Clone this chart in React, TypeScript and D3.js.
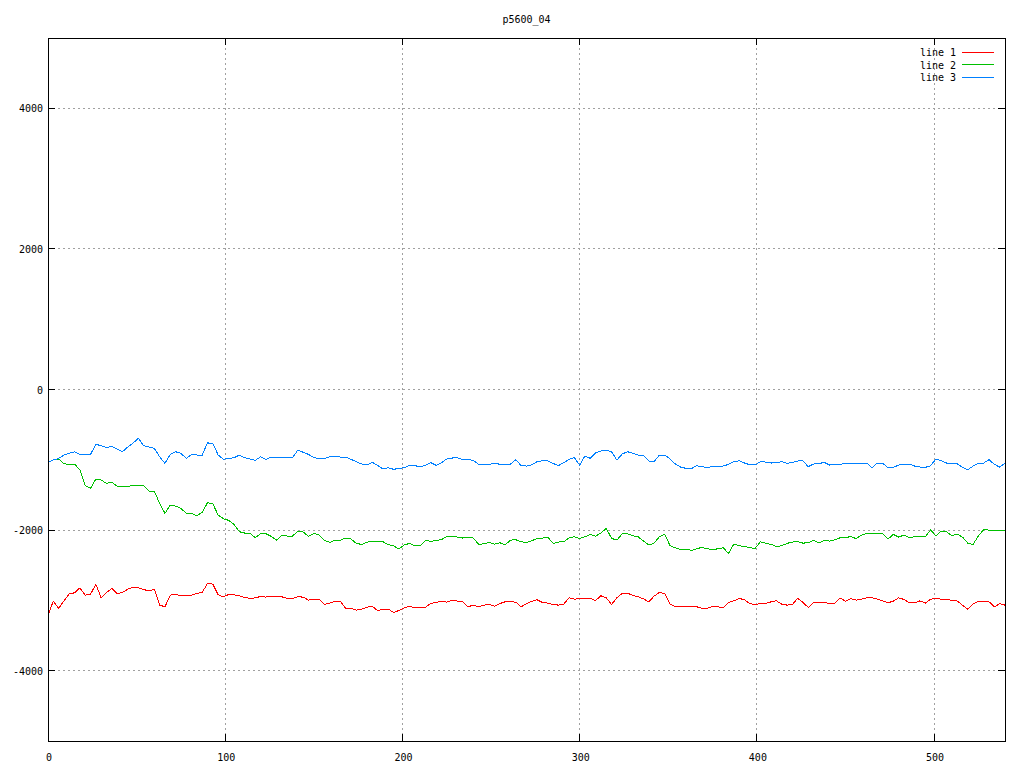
import React from 'react';
import * as d3 from 'd3';

const title = 'p5600_04';
const xTicks = [0, 100, 200, 300, 400, 500];
const yTicks = [-4000, -2000, 0, 2000, 4000];
const seriesNames = ['line 1', 'line 2', 'line 3'];
const seriesColors = ['#ff0000', '#00c000', '#0080ff'];

// sample index (read every 3 points off the reference)
const sampleX = [
  0, 3, 6, 9, 12, 15, 18, 21, 24, 27, 30, 33, 36, 39, 42, 45, 48, 51, 54, 57, 60, 63, 66, 69, 72, 75, 78, 81, 84, 87,
  90, 93, 96, 99, 102, 105, 108, 111, 114, 117, 120, 123, 126, 129, 132, 135, 138, 141, 144, 147, 150, 153, 156, 159, 162, 165, 168, 171, 174, 177,
  180, 183, 186, 189, 192, 195, 198, 201, 204, 207, 210, 213, 216, 219, 222, 225, 228, 231, 234, 237, 240, 243, 246, 249, 252, 255, 258, 261, 264, 267,
  270, 273, 276, 279, 282, 285, 288, 291, 294, 297, 300, 303, 306, 309, 312, 315, 318, 321, 324, 327, 330, 333, 336, 339, 342, 345, 348, 351, 354, 357,
  360, 363, 366, 369, 372, 375, 378, 381, 384, 387, 390, 393, 396, 399, 402, 405, 408, 411, 414, 417, 420, 423, 426, 429, 432, 435, 438, 441, 444, 447,
  450, 453, 456, 459, 462, 465, 468, 471, 474, 477, 480, 483, 486, 489, 492, 495, 498, 501, 504, 507, 510, 513, 516, 519, 522, 525, 528, 531, 534, 537, 540,
];

const line1 = [
  -3210, -3010, -3115, -3006, -2906, -2892, -2821, -2925, -2911, -2773, -2963, -2887, -2830, -2906, -2887, -2840, -2816, -2821, -2844, -2868, -2840, -3067, -3091, -2925, -2911, -2934, -2934, -2925, -2901, -2887,
  -2759, -2768, -2920, -2949, -2915, -2920, -2934, -2958, -2972, -2963, -2944, -2953, -2939, -2949, -2949, -2972, -2972, -2949, -2953, -2996, -2982, -2982, -3058, -3039, -3015, -3011, -3115, -3110, -3138, -3124,
  -3096, -3082, -3148, -3124, -3124, -3172, -3143, -3105, -3082, -3105, -3105, -3096, -3044, -3029, -3015, -3025, -3001, -3010, -3020, -3091, -3067, -3091, -3067, -3058, -3082, -3044, -3020, -3020, -3025, -3091,
  -3044, -3015, -2991, -3029, -3039, -3058, -3067, -3053, -2963, -2982, -2977, -2968, -2972, -3001, -2934, -2963, -3058, -2963, -2901, -2896, -2930, -2949, -2977, -3020, -2939, -2887, -2901, -3053, -3091, -3091,
  -3091, -3082, -3091, -3110, -3115, -3082, -3091, -3105, -3029, -3006, -2972, -2991, -3044, -3063, -3044, -3044, -3020, -3006, -3053, -3067, -3058, -2972, -3029, -3101, -3025, -3029, -3029, -3044, -3039, -2968,
  -3010, -2977, -2996, -2982, -2963, -2963, -2982, -3006, -3034, -3010, -2963, -2987, -3034, -3034, -3006, -3039, -2982, -2972, -2982, -2991, -2996, -3010, -3067, -3124, -3053, -3015, -3015, -3020, -3091, -3048, -3067,
];

const line2 = [
  -1036, -1003, -989, -1055, -1070, -1060, -1146, -1369, -1407, -1274, -1288, -1335, -1321, -1373, -1373, -1378, -1364, -1369, -1369, -1445, -1445, -1620, -1762, -1644, -1658, -1691, -1762, -1762, -1796, -1748,
  -1611, -1625, -1786, -1838, -1862, -1919, -2023, -2042, -2047, -2109, -2047, -2052, -2090, -2142, -2071, -2085, -2085, -2014, -2028, -2090, -2047, -2071, -2147, -2175, -2142, -2142, -2113, -2128, -2189, -2204,
  -2170, -2166, -2161, -2166, -2208, -2223, -2270, -2213, -2189, -2223, -2223, -2147, -2161, -2147, -2137, -2090, -2090, -2099, -2113, -2109, -2113, -2204, -2194, -2175, -2199, -2180, -2208, -2142, -2137, -2166,
  -2175, -2151, -2118, -2113, -2099, -2189, -2170, -2166, -2109, -2095, -2118, -2095, -2061, -2085, -2042, -1976, -2118, -2142, -2052, -2052, -2080, -2095, -2156, -2213, -2185, -2095, -2057, -2223, -2251, -2275,
  -2270, -2289, -2265, -2246, -2265, -2280, -2265, -2251, -2332, -2199, -2223, -2232, -2251, -2261, -2166, -2185, -2204, -2232, -2223, -2189, -2170, -2166, -2185, -2180, -2147, -2185, -2147, -2156, -2137, -2109,
  -2109, -2090, -2123, -2071, -2047, -2052, -2047, -2052, -2128, -2061, -2099, -2071, -2109, -2095, -2095, -2095, -2000, -2080, -2014, -2023, -2080, -2057, -2099, -2185, -2204, -2080, -1995, -2000, -2000, -2000, -2014,
];

const line3 = [
  -1036, -1003, -980, -932, -908, -885, -922, -922, -922, -780, -799, -828, -809, -847, -885, -818, -761, -695, -799, -818, -837, -956, -1051, -923, -885, -908, -980, -923, -932, -932,
  -760, -766, -932, -994, -980, -970, -932, -970, -989, -1008, -956, -994, -961, -961, -961, -970, -970, -861, -894, -923, -970, -980, -980, -956, -946, -961, -961, -994, -1027, -1060,
  -1074, -1036, -1079, -1131, -1112, -1136, -1122, -1112, -1079, -1084, -1098, -1079, -1041, -1079, -1041, -989, -975, -970, -998, -998, -1008, -1065, -1074, -1065, -1046, -1065, -1070, -1060, -998, -1084,
  -1089, -1070, -1027, -1013, -1017, -1051, -1084, -1041, -994, -970, -1074, -946, -980, -899, -875, -861, -885, -1003, -918, -885, -908, -932, -942, -1017, -1027, -932, -932, -989, -1060, -1103,
  -1122, -1127, -1084, -1098, -1112, -1093, -1093, -1089, -1065, -1027, -1013, -1046, -1070, -1074, -1027, -1032, -1046, -1041, -1027, -1051, -1036, -1017, -1017, -1098, -1060, -1055, -1036, -1074, -1065, -1065,
  -1051, -1046, -1055, -1051, -1046, -1112, -1046, -1051, -1112, -1108, -1074, -1065, -1060, -1089, -1103, -1108, -1084, -989, -1013, -1046, -1060, -1055, -1108, -1141, -1089, -1051, -1046, -998, -1065, -1103, -1051,
];

const seriesValues = [line1, line2, line3];

const W = 1024;
const H = 768;
const left = 48;
const right = 1005;
const top = 38;
const bottom = 741;
const tickLen = 7;
const font = '"DejaVu Sans Mono", monospace';

export default function App() {
  const x = d3.scaleLinear().domain([0, 540]).range([left, right]);
  const y = d3.scaleLinear().domain([-5000, 5000]).range([bottom, top]);

  const line = d3.line<number>()
    .x((_, i) => x(sampleX[i]))
    .y(d => y(d));

  return (
    <svg
      width={W}
      height={H}
      style={{ position: 'absolute', left: 0, top: 0, background: '#fff' }}
    >
      {/* grid */}
      <g stroke="#a0a0a0" strokeDasharray="2,3" shapeRendering="crispEdges">
        {xTicks.filter(t => t > 0).map(t => (
          <line key={'gx' + t} x1={x(t)} x2={x(t)} y1={top} y2={bottom} />
        ))}
        {yTicks.map(t => (
          <line key={'gy' + t} x1={left} x2={right} y1={y(t)} y2={y(t)} />
        ))}
      </g>

      {/* tick marks, mirrored like gnuplot */}
      <g stroke="#000" shapeRendering="crispEdges">
        {xTicks.map(t => (
          <g key={'tx' + t}>
            <line x1={x(t)} x2={x(t)} y1={bottom} y2={bottom - tickLen} />
            <line x1={x(t)} x2={x(t)} y1={top} y2={top + tickLen} />
          </g>
        ))}
        {yTicks.map(t => (
          <g key={'ty' + t}>
            <line x1={left} x2={left + tickLen} y1={y(t)} y2={y(t)} />
            <line x1={right} x2={right - tickLen} y1={y(t)} y2={y(t)} />
          </g>
        ))}
      </g>

      {/* series */}
      <g fill="none" strokeWidth={1} shapeRendering="crispEdges">
        {seriesValues.map((vals, i) => (
          <path key={i} d={line(vals) || ''} stroke={seriesColors[i]} />
        ))}
      </g>

      {/* border */}
      <rect
        x={left}
        y={top}
        width={right - left}
        height={bottom - top}
        fill="none"
        stroke="#000"
        shapeRendering="crispEdges"
      />

      {/* labels */}
      <g fontFamily={font} fontSize={10} fill="#000">
        <text x={(left + right) / 2} y={23} textAnchor="middle">{title}</text>
        {xTicks.map(t => (
          <text key={'lx' + t} x={x(t) + 1} y={761} textAnchor="middle">{t}</text>
        ))}
        {yTicks.map(t => (
          <text key={'ly' + t} x={43} y={y(t) + 4} textAnchor="end">{t}</text>
        ))}
        {seriesNames.map((name, i) => (
          <g key={name}>
            <text x={956} y={56 + i * 12.5} textAnchor="end">{name}</text>
            <line
              x1={962}
              x2={994}
              y1={52 + i * 12.5}
              y2={52 + i * 12.5}
              stroke={seriesColors[i]}
              shapeRendering="crispEdges"
            />
          </g>
        ))}
      </g>
    </svg>
  );
}
